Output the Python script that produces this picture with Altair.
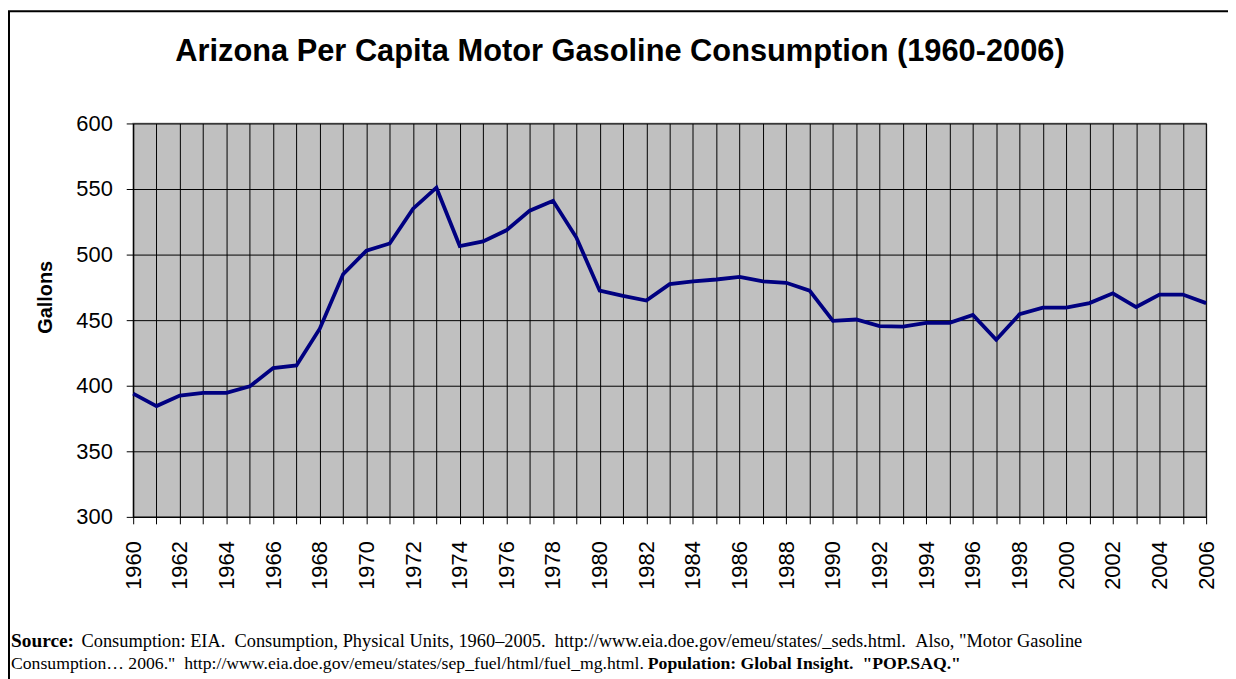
import altair as alt
import pandas as pd

years = list(range(1960, 2007))
gallons = [394, 384.5, 392.5, 394.5, 394.5, 399.5, 413.5, 415.5, 443.5, 485,
           503, 508.5, 535, 551, 506.5, 510, 518.5, 533.5, 541, 513,
           472.5, 468.5, 465, 477.5, 479.5, 481, 483, 479.5, 478.5, 472.5,
           449.5, 450.5, 445.5, 445, 448, 448, 454, 435, 454.5, 459.5,
           459.5, 463, 470.5, 460, 469.5, 469.5, 463]

y_ticks = [300, 350, 400, 450, 500, 550, 600]

NB2 = "\u00a0\u00a0"
title_text = "Arizona Per Capita Motor Gasoline Consumption (1960-2006)"
y_title = "Gallons"
src_bold_1 = "Source:"
src_reg_1 = ("Consumption: EIA." + NB2 + "Consumption, Physical Units, 1960\u20132005." + NB2 +
             "http://www.eia.doe.gov/emeu/states/_seds.html." + NB2 + "Also, \"Motor Gasoline")
src_reg_2 = ("Consumption\u2026 2006.\"" + NB2 + "http://www.eia.doe.gov/emeu/states/"
             "sep_fuel/html/fuel_mg.html.")
src_bold_2 = "Population: Global Insight." + NB2 + "\"POP.SAQ.\""

df = pd.DataFrame({"year": years, "gallons": gallons})

W, H = 1080, 396
PL, PT = 126, 114
X0 = PL + 8   # page x of plot left
Y0 = PT + 8   # page y of plot top

x_scale = alt.Scale(domain=[1960, 2006], nice=False, zero=False)
y_scale = alt.Scale(domain=[300, 600], nice=False, zero=False)

base = alt.Chart(df)

line = base.mark_line(color="#000080", strokeWidth=3.8).encode(
    x=alt.X("year:Q", scale=x_scale,
            axis=alt.Axis(values=years, title=None, format="d",
                          labelExpr="datum.value % 2 == 0 ? datum.label : ''",
                          labelAngle=270, labelFontSize=22, labelFont="Liberation Sans",
                          labelColor="black", labelPadding=17,
                          tickSize=7, tickColor="black", domainColor="black",
                          grid=True, gridColor="black", gridOpacity=1, gridWidth=1,
                          labelOverlap=False, labelFlush=False)),
    y=alt.Y("gallons:Q", scale=y_scale,
            axis=alt.Axis(values=y_ticks, title=None, labelFontSize=22,
                          labelFont="Liberation Sans", labelColor="black",
                          labelPadding=14, tickSize=7, tickColor="black",
                          domainColor="black", grid=True, gridColor="black",
                          gridOpacity=1, gridWidth=1)),
)

def txt(text, x, y, size, font, bold=False, angle=0, align="left", baseline="alphabetic"):
    d = pd.DataFrame({"t": [text]})
    kw = dict(fontSize=size, font=font, fontWeight="bold" if bold else "normal",
              align=align, baseline=baseline, color="black")
    if angle:
        kw["angle"] = angle
    return alt.Chart(d).mark_text(**kw).encode(
        x=alt.value(x), y=alt.value(y), text="t:N")

title = txt(title_text, 624 - X0, 50 - Y0, 31, "Liberation Sans", bold=True,
            align="center", baseline="middle")
ytitle = txt(y_title, 46 - X0, 297 - Y0, 20, "Liberation Sans", bold=True,
             angle=270, align="center", baseline="middle")
s1b = txt(src_bold_1, 11 - X0, 649 - Y0, 19.5, "Liberation Serif", bold=True)
s1r = txt(src_reg_1, 82 - X0, 649 - Y0, 18.5, "Liberation Serif")
s2r = txt(src_reg_2, 11 - X0, 671 - Y0, 17.8, "Liberation Serif")
s2b = txt(src_bold_2, 652 - X0, 671 - Y0, 17.8, "Liberation Serif", bold=True)

border = alt.Chart(pd.DataFrame({"a": [0]})).mark_rect(
    fill=None, stroke="black", strokeWidth=2).encode(
    x=alt.value(-PL + 1), x2=alt.value(W + 200),
    y=alt.value(-PT + 1), y2=alt.value(H + 300))

chart = alt.layer(line, title, ytitle, s1b, s1r, s2r, s2b, border).properties(
    width=W, height=H,
    autosize=alt.AutoSizeParams(type="none"),
    padding={"left": PL, "top": PT, "right": 1228 - PL - W, "bottom": 671 - PT - H},
    background="white",
).configure_view(fill="#C0C0C0", stroke="#808080", strokeWidth=1.5)

chart.save("out.html", embed_options={"renderer": "svg", "actions": False})
